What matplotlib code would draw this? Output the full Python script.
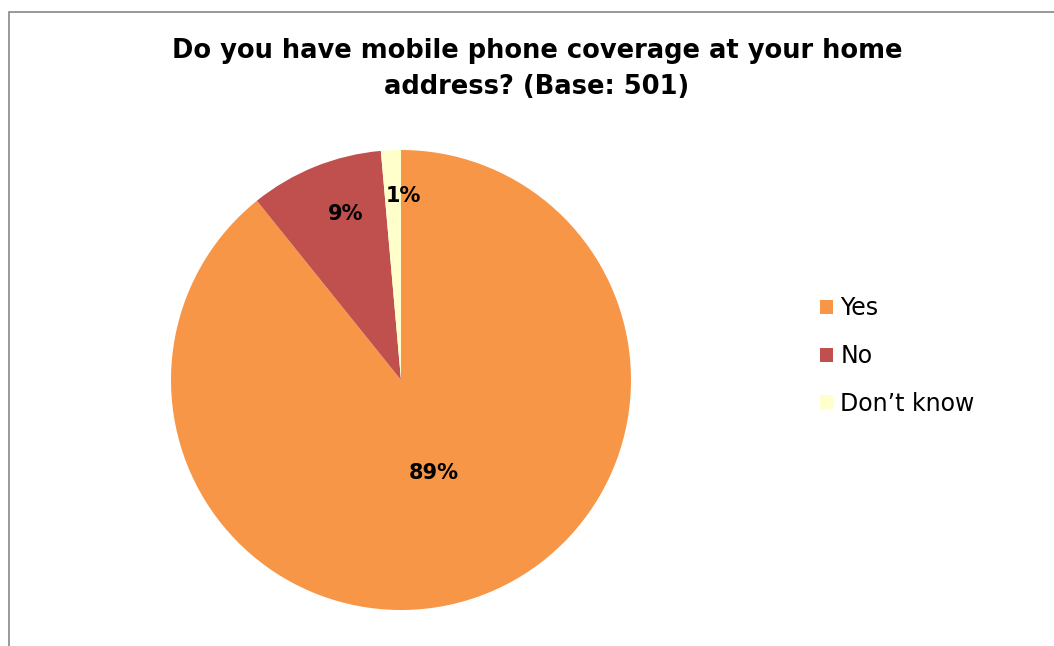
import matplotlib
matplotlib.use("Agg")
from matplotlib import pyplot as plt
from matplotlib.patches import Rectangle, Patch
import numpy as np

# survey answers (respondent counts, base 501)
answers = ["Yes", "No", "Don\u2019t know"]
counts = [447, 47, 7]
colors = ["#F79646", "#C0504D", "#FFFFCC"]

title = "Do you have mobile phone coverage at your home\naddress? (Base: 501)"

plt.rcParams['font.family'] = ['DejaVu Sans']

fig = plt.figure(figsize=(10.54, 6.46), dpi=100)

# chart frame, runs off the right and bottom edges
fig.patches.append(Rectangle((8.5 / 1054, -0.1), 1.2, 1.1 - 11.5 / 646,
                             transform=fig.transFigure, fill=False,
                             edgecolor="#878787", linewidth=1.2))

ax = fig.add_axes([171 / 1054, 36 / 646, 460 / 1054, 460 / 646])
wedges, texts, pcts = ax.pie(counts, colors=colors, startangle=90,
                             counterclock=False, autopct="%1.0f%%",
                             wedgeprops=dict(linewidth=0),
                             textprops=dict(fontsize=15, fontweight="bold",
                                            color="black"))
ax.set_aspect("equal")
ax.set_xlim(-1, 1)
ax.set_ylim(-1, 1)

# move the percent labels to where they sit in each slice
label_dist = [0.43, 0.77, 0.81]
for w, t, d in zip(wedges, pcts, label_dist):
    mid = np.deg2rad((w.theta1 + w.theta2) / 2)
    t.set_position((d * np.cos(mid), d * np.sin(mid)))
pcts[1].set_position((-0.24, 0.72))
pcts[2].set_position((0.01, 0.80))

fig.text(537 / 1054, 1 - 69 / 646, title, ha="center", va="center",
         fontsize=18.5, fontweight="bold", linespacing=1.5)

handles = [Patch(facecolor=c, edgecolor="none") for c in colors]
fig.legend(handles, answers, loc="center left",
           bbox_to_anchor=(799 / 1054, 1 - 356 / 646), frameon=False,
           fontsize=17, handlelength=0.55, handleheight=0.55,
           handletextpad=0.3, labelspacing=1.0)

fig.savefig("out.png", dpi=100)
